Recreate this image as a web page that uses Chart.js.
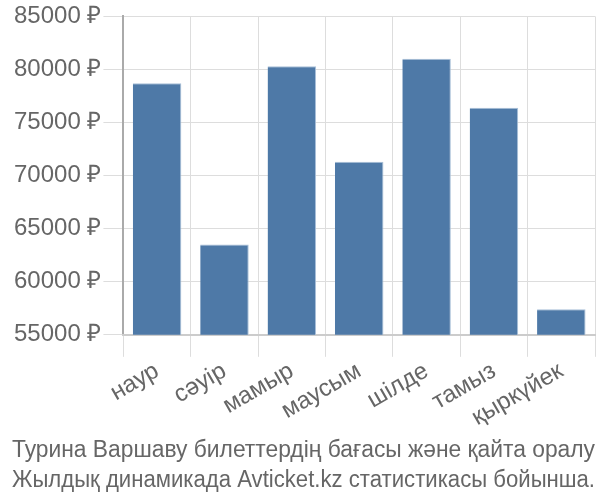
<!DOCTYPE html>
<html>
<head>
<meta charset="utf-8">
<script src="https://cdn.jsdelivr.net/npm/chart.js@4"></script>
<style>
  html, body { margin: 0; padding: 0; background: #fff; }
  #wrap { width: 600px; height: 500px; }
</style>
</head>
<body>
<div id="wrap"><canvas id="grafico"></canvas></div>
<script>
// Datos
const meses   = ['наур', 'сәуір', 'мамыр', 'маусым', 'шілде', 'тамыз', 'қыркүйек'];
const precios = [78700, 63500, 80300, 71300, 81000, 76400, 57400];
const titulo  = ['Турина Варшаву билеттердің бағасы және қайта оралу', 'Жылдық динамикада Avticket.kz статистикасы бойынша.'];

Chart.defaults.font.family = '"Liberation Sans", Arial, sans-serif';
Chart.defaults.color = '#666';

new Chart(document.getElementById('grafico'), {
  type: 'bar',
  data: {
    labels: meses,
    datasets: [{
      data: precios,
      backgroundColor: '#4e79a7',
      borderColor: '#a9c0d8',
      borderWidth: { top: 1, left: 0, right: 1, bottom: 0 },
      barPercentage: 0.72,
      categoryPercentage: 1,
    }]
  },
  options: {
    responsive: true,
    maintainAspectRatio: false,
    animation: false,
    layout: { padding: { top: 0, right: 5, left: 12, bottom: 0 } },
    plugins: {
      legend: { display: false },
      tooltip: { enabled: false },
      title: {
        display: true,
        position: 'bottom',
        text: titulo,
        color: '#666',
        font: { size: 23, weight: 'normal', lineHeight: 1.3 },
        padding: { top: 4, bottom: 4 }
      }
    },
    scales: {
      y: {
        min: 55000,
        max: 85000,
        ticks: { stepSize: 5000, font: { size: 24 }, callback: v => v + ' ₽', padding: 2 },
        grid: { color: '#ddd', tickLength: 20 },
        border: { color: '#aaa', width: 2 }
      },
      x: {
        ticks: { font: { size: 24 }, minRotation: 30, maxRotation: 30, padding: 0 },
        grid: { color: '#ddd', offset: true, tickLength: 22 },
        border: { color: '#ccc', width: 2 }
      }
    }
  }
});
</script>
</body>
</html>
